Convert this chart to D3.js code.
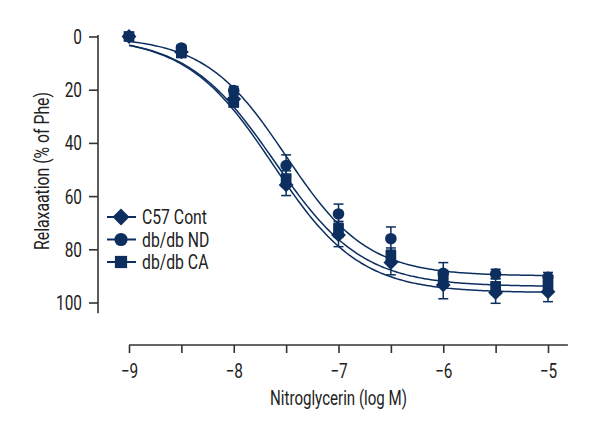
<!DOCTYPE html>
<html><head><meta charset="utf-8">
<script src="https://cdn.jsdelivr.net/npm/d3@7"></script>
<style>body{margin:0;background:#fff}svg{display:block}text{font-family:Roboto,"Noto Sans",sans-serif;fill:#222}</style>
</head><body><svg id="c" width="600" height="440"></svg>
<script>
const doses = [-9, -8.5, -8, -7.5, -7, -6.5, -6, -5.5, -5];
const seriesNames = ["C57 Cont", "db/db ND", "db/db CA"];
const c57Values = [0, 5.8, 23.5, 55.8, 74.6, 85, 93.4, 96.3, 96];
const c57Errors = [1, 1, 1.5, 4, 4.4, 4.6, 5.2, 4, 3.7];
const ndValues = [0, 4.3, 20.3, 48.5, 66.7, 76, 89, 89.3, 90.5];
const ndErrors = [1, 1, 1.5, 4, 3.7, 4.4, 4, 1.8, 1.8];
const caValues = [0, 6.2, 24.8, 53.5, 72.5, 82.5, 91, 94, 93.4];
const caErrors = [1, 1, 1.5, 3, 3, 3, 3, 3, 3];
// fitted sigmoid curve parameters: [bottom, logEC50, hillSlope]
const c57Fit = [96.3, -7.625, 1.05];
const ndFit = [90, -7.5, 1.12];
const caFit = [94, -7.61, 1.04];
const xTicks = [-9, -8.5, -8, -7.5, -7, -6.5, -6, -5.5, -5];
const xTickLabels = ["−9", "", "−8", "", "−7", "", "−6", "", "−5"];
const yTicks = [0, 20, 40, 60, 80, 100];
const xTitle = "Nitroglycerin (log M)";
const yTitle = "Relaxaation (% of Phe)";

const color = "#0c2f5f";
const FS = 20;
const svg = d3.select("#c");
const x = d3.scaleLinear().domain([-9, -5]).range([129, 548]);
const y = d3.scaleLinear().domain([0, 100]).range([36.5, 302.5]);

// condensed look: squeeze text horizontally to the widths seen in the reference
function squeeze(str, target) {
  const t = svg.append("text").attr("font-size", FS).text(str);
  const w = t.node().getComputedTextLength();
  t.remove();
  return target / w;
}
const fx = squeeze(xTitle, 137), fy = squeeze(yTitle, 158), fl = squeeze(seriesNames[0], 65), ft = squeeze("100", 26);

svg.append("text").attr("transform", `translate(${x(-7)},405) scale(${fx},1)`).attr("text-anchor", "middle")
  .attr("font-size", FS).text(xTitle);
svg.append("text").attr("transform", `translate(49,171) rotate(-90) scale(${fy},1)`).attr("text-anchor", "middle")
  .attr("font-size", FS).text(yTitle);

// axes
const yAxis = svg.append("g").attr("transform", "translate(98,0)")
  .call(d3.axisLeft(y).tickValues(yTicks).tickSize(9).tickPadding(7).tickSizeOuter(0));
yAxis.select(".domain").attr("d", `M0,${y(-0.6)}V${y(104)}`);
yAxis.selectAll(".tick text").attr("x", -16 / ft).attr("dy", null).attr("y", 7).attr("transform", `scale(${ft},1)`);
const xAxis = svg.append("g").attr("transform", "translate(0,345)")
  .call(d3.axisBottom(x).tickValues(xTicks).tickFormat((d, i) => xTickLabels[i]).tickSize(8).tickPadding(7).tickSizeOuter(0));
xAxis.select(".domain").attr("d", `M${x(-9)},0H${x(-4.81)}`);
xAxis.selectAll(".tick text").attr("dy", null).attr("y", 33).attr("transform", `scale(${ft},1)`);
svg.selectAll(".domain, .tick line").attr("stroke", "#333").attr("stroke-width", 1.6);
svg.selectAll(".tick text").attr("font-size", FS).attr("fill", "#222").style("font-family", 'Roboto,"Noto Sans",sans-serif');

const diamond = {draw(ctx, size) { const r = Math.sqrt(size / 2); ctx.moveTo(0, -r); ctx.lineTo(r, 0); ctx.lineTo(0, r); ctx.lineTo(-r, 0); ctx.closePath(); }};
const series = [
  {name: seriesNames[0], vals: c57Values, errs: c57Errors, fit: c57Fit, sym: diamond, size: 110},
  {name: seriesNames[1], vals: ndValues, errs: ndErrors, fit: ndFit, sym: d3.symbolCircle, size: 105},
  {name: seriesNames[2], vals: caValues, errs: caErrors, fit: caFit, sym: d3.symbolSquare, size: 115}
];

// fitted curves
const curveX = d3.range(-9, -4.999, 0.02);
const line = d3.line().x(d => x(d[0])).y(d => y(d[1]));
series.forEach(s => {
  const [b, e, h] = s.fit;
  const pts = curveX.map(v => [v, b / (1 + Math.pow(10, (e - v) * h))]);
  svg.append("path").attr("d", line(pts)).attr("fill", "none").attr("stroke", color).attr("stroke-width", 1.5);
});

// error bars
series.forEach(s => {
  const g = svg.append("g").attr("stroke", color).attr("stroke-width", 1.5);
  doses.forEach((d, i) => {
    const lo = y(s.vals[i] - s.errs[i]), hi = y(s.vals[i] + s.errs[i]), cx = x(d);
    g.append("line").attr("x1", cx).attr("x2", cx).attr("y1", lo).attr("y2", hi);
    g.append("line").attr("x1", cx - 5).attr("x2", cx + 5).attr("y1", lo).attr("y2", lo);
    g.append("line").attr("x1", cx - 5).attr("x2", cx + 5).attr("y1", hi).attr("y2", hi);
  });
});

// markers
series.forEach(s => {
  svg.append("g").selectAll("path").data(doses).join("path")
    .attr("transform", (d, i) => `translate(${x(d)},${y(s.vals[i])})`)
    .attr("d", d3.symbol().type(s.sym).size(s.size)).attr("fill", color);
});

// legend
const legY = [217, 239.5, 262];
series.forEach((s, i) => {
  const g = svg.append("g").attr("transform", `translate(0,${legY[i]})`);
  g.append("line").attr("x1", 107).attr("x2", 136).attr("y1", 0).attr("y2", 0).attr("stroke", color).attr("stroke-width", 2);
  g.append("path").attr("transform", "translate(121,0)").attr("d", d3.symbol().type(s.sym).size(s.size * 1.3)).attr("fill", color);
  g.append("text").attr("transform", `translate(142,0) scale(${fl},1)`).attr("y", 7).attr("font-size", FS).text(s.name);
});
</script></body></html>
